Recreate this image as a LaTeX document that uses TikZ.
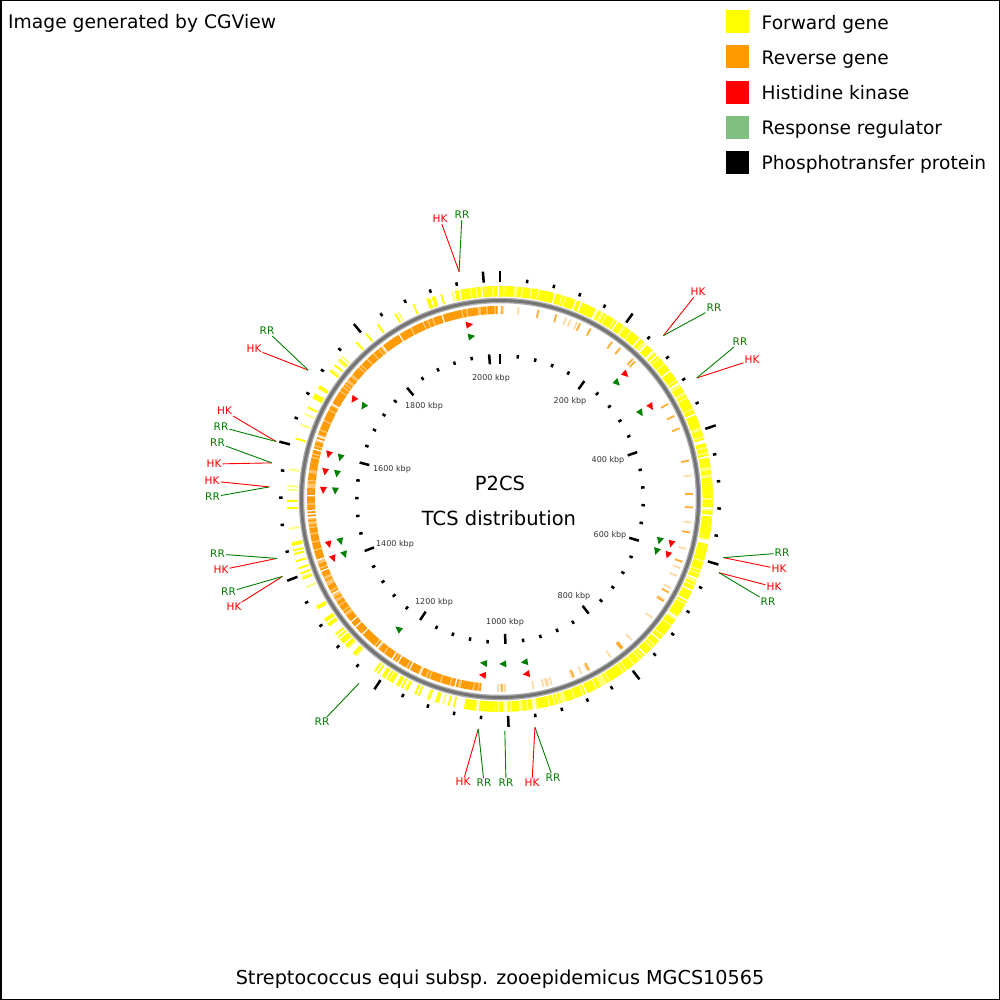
\documentclass[tikz,border=0pt]{standalone}
\usepackage{fontspec}
\setmainfont{DejaVu Sans}
\definecolor{fwd}{RGB}{255,255,0}
\definecolor{rev}{RGB}{255,153,0}
\definecolor{hkc}{RGB}{255,0,0}
\definecolor{rrc}{RGB}{0,128,0}
\definecolor{rrleg}{RGB}{127,191,127}
\definecolor{ringout}{RGB}{170,170,170}
\definecolor{ringin}{RGB}{115,115,115}
\newcommand\tcstri[4]{%
  \pgfmathsetmacro\tcsA{#1-90-(#3)*2.5/#2*57.3}%
  \pgfmathsetmacro\tcsB{#1-90+(#3)*4.5/#2*57.3}%
  \fill[#4] (\tcsA:{#2-3.5}) -- (\tcsA:{#2+3.5}) -- (\tcsB:#2) -- cycle;}
\begin{document}
\begin{tikzpicture}[x=1pt,y=-1pt,
  hk/.style={text=hkc, font=\fontsize{10.5}{12}\selectfont, inner sep=1pt},
  rr/.style={text=rrc, font=\fontsize{10.5}{12}\selectfont, inner sep=1pt},
  hkline/.style={draw=hkc, line width=0.9},
  rrline/.style={draw=rrc, line width=0.9},
  kbp/.style={font=\fontsize{8}{10}\selectfont, text=black!80, inner sep=0.5pt},
  legtext/.style={anchor=base west, font=\fontsize{18.6}{22}\selectfont, inner sep=0pt},
  legbox/.style={minimum size=23, inner sep=0pt, draw=none},
  tick/.style={line width=2.5, black},
  bigtext/.style={anchor=base, font=\fontsize{19.5}{23}\selectfont, inner sep=0pt}]
\fill[white] (0,0) rectangle (1000,1000);
\useasboundingbox (0,0) rectangle (1000,1000);
\draw[line width=1.5] (0.75,0.75) rectangle (999.25,999.25);

% header and footer
\node[anchor=base west, font=\fontsize{18.7}{22}\selectfont, inner sep=0pt] (title) at (8,29) {Image generated by CGView};
\node[anchor=base, font=\fontsize{19.2}{22}\selectfont, inner sep=0pt] (organism) at (500,984) {Streptococcus equi subsp. zooepidemicus MGCS10565};

% legend
\node[legbox, fill=fwd] (lb1) at (737.5,21.5) {};
\node[legbox, fill=rev] (lb2) at (737.5,57) {};
\node[legbox, fill=hkc] (lb3) at (737.5,92.5) {};
\node[legbox, fill=rrleg] (lb4) at (737.5,127.5) {};
\node[legbox, fill=black] (lb5) at (737.5,162.5) {};
\node[legtext] (lt1) at (761.5,29.3) {Forward gene};
\node[legtext] (lt2) at (761.5,64.3) {Reverse gene};
\node[legtext] (lt3) at (761.5,99.3) {Histidine kinase};
\node[legtext] (lt4) at (761.5,134.3) {Response regulator};
\node[legtext] (lt5) at (761.5,169.3) {Phosphotransfer protein};

% centre text
\node[bigtext] (p2cs) at (500,490) {P2CS};
\node[bigtext] (tcs) at (499,525) {TCS distribution};

\begin{scope}[shift={(500,499)}]
  % forward genes
  \pgfmathsetseed{42}
  \foreach \a in {0,0.5,...,359.5}{
    \pgfmathsetmacro\pf{(\a>=348 || \a<190) ? 0.93 : ((\a<232) ? 0.4 : 0.22)}
    \pgfmathsetmacro\u{rnd}
    \pgfmathsetmacro\v{rnd}
    \ifdim\u pt<\pf pt
      \pgfmathsetmacro\op{(\v<0.22) ? 0.5 : 1}
      \draw[fwd, line width=1.95, opacity=\op] ({\a-90}:202.5) -- ({\a-90}:213);
    \fi
  }
  % reverse genes
  \foreach \a in {0,0.5,...,359.5}{
    \pgfmathsetmacro\pf{(\a>=186) ? 0.92 : 0.14}
    \pgfmathsetmacro\u{rnd}
    \pgfmathsetmacro\v{rnd}
    \ifdim\u pt<\pf pt
      \pgfmathsetmacro\op{(\a>=186) ? ((\v<0.25) ? 0.55 : 1) : ((\v<0.6) ? 0.35 : 0.8)}
      \draw[rev, line width=1.8, opacity=\op] ({\a-90}:185) -- ({\a-90}:193);
    \fi
  }
  % backbone ring
  \draw[ringout, line width=5.5] (0,0) circle[radius=198.5];
  \draw[ringin, line width=2.8] (0,0) circle[radius=198.5];
  % ticks
  \foreach \k in {0,...,50}{
    \pgfmathsetmacro\t{\k*40/2024.171*360-90}
    \pgfmathtruncatemacro\m{mod(\k,5)}
    \ifnum\m=0
      \draw[tick] (\t:217) -- (\t:228);
      \draw[tick] (\t:135) -- (\t:145);
    \else
      \draw[tick] (\t:217.5) -- (\t:221);
      \draw[tick] (\t:141.5) -- (\t:145);
    \fi
  }
  % TCS features: HK (r=177) and RR (r=165)
  \tcstri{349.8}{177}{1}{hkc}  \tcstri{349.8}{165}{1}{rrc}
  \tcstri{45.0}{177}{1}{hkc}   \tcstri{45.0}{165}{1}{rrc}
  \tcstri{58.3}{177}{1}{hkc}   \tcstri{58.3}{165}{1}{rrc}
  \tcstri{104.4}{177}{1}{hkc}  \tcstri{104.4}{165}{1}{rrc}
  \tcstri{108.2}{177}{1}{hkc}  \tcstri{108.2}{165}{1}{rrc}
  \tcstri{171.2}{177}{1}{hkc}  \tcstri{171.2}{165}{1}{rrc}
  \tcstri{178.7}{165}{1}{rrc}
  \tcstri{185.4}{177}{1}{hkc}  \tcstri{185.4}{165}{1}{rrc}
  \tcstri{217.8}{165}{1}{rrc}
  \tcstri{250.6}{177}{-1}{hkc} \tcstri{250.6}{165}{-1}{rrc}
  \tcstri{255.4}{177}{-1}{hkc} \tcstri{255.4}{165}{-1}{rrc}
  \tcstri{273.1}{177}{-1}{hkc} \tcstri{273.1}{165}{-1}{rrc}
  \tcstri{279.1}{177}{-1}{hkc} \tcstri{279.1}{165}{-1}{rrc}
  \tcstri{284.8}{177}{-1}{hkc} \tcstri{284.8}{165}{-1}{rrc}
  \tcstri{304.4}{177}{-1}{hkc} \tcstri{304.4}{165}{-1}{rrc}
  % label anchors
  \coordinate (f1) at ({349.8-90}:231);
  \coordinate (f2) at ({45.0-90}:231);
  \coordinate (f3) at ({58.4-90}:231);
  \coordinate (f4) at ({104.7-90}:231);
  \coordinate (f5) at ({108.6-90}:231);
  \coordinate (f6) at ({171.3-90}:231);
  \coordinate (f7) at ({178.8-90}:232);
  \coordinate (f8) at ({185.4-90}:231);
  \coordinate (f9) at ({217.4-90}:232);
  \coordinate (f10) at ({250.4-90}:231);
  \coordinate (f11) at ({255.1-90}:231);
  \coordinate (f12) at ({273.0-90}:231);
  \coordinate (f13) at ({279.0-90}:231);
  \coordinate (f14) at ({284.4-90}:231);
  \coordinate (f15) at ({303.9-90}:231);
\end{scope}

% kbp labels
\node[kbp] (k2000) at (491,378) {2000 kbp};
\node[kbp] (k200) at (570,401) {200 kbp};
\node[kbp] (k400) at (608,460) {400 kbp};
\node[kbp] (k600) at (610,535) {600 kbp};
\node[kbp] (k800) at (574,596) {800 kbp};
\node[kbp] (k1000) at (505,622) {1000 kbp};
\node[kbp] (k1200) at (434,602) {1200 kbp};
\node[kbp] (k1400) at (395,544) {1400 kbp};
\node[kbp] (k1600) at (392,469) {1600 kbp};
\node[kbp] (k1800) at (424,406) {1800 kbp};

% feature labels
\node[hk] (f1h) at (440,219) {HK};   \node[rr] (f1r) at (462,215) {RR};
\node[hk] (f2h) at (698,292) {HK};   \node[rr] (f2r) at (714,308) {RR};
\node[rr] (f3r) at (740,342) {RR};   \node[hk] (f3h) at (752,360) {HK};
\node[rr] (f4r) at (782,553) {RR};   \node[hk] (f4h) at (779,569) {HK};
\node[hk] (f5h) at (774,587) {HK};   \node[rr] (f5r) at (768,602) {RR};
\node[hk] (f6h) at (532,783) {HK};   \node[rr] (f6r) at (553,778) {RR};
\node[rr] (f7r) at (506,783) {RR};
\node[hk] (f8h) at (463,782) {HK};   \node[rr] (f8r) at (484,783) {RR};
\node[rr] (f9r) at (322,722) {RR};
\node[rr] (f10r) at (228.5,592) {RR}; \node[hk] (f10h) at (234,607) {HK};
\node[rr] (f11r) at (217.5,554) {RR}; \node[hk] (f11h) at (221,570) {HK};
\node[hk] (f12h) at (212,481) {HK};   \node[rr] (f12r) at (212.5,497) {RR};
\node[rr] (f13r) at (217.5,443) {RR}; \node[hk] (f13h) at (214,464) {HK};
\node[hk] (f14h) at (224.5,411) {HK}; \node[rr] (f14r) at (221,427) {RR};
\node[rr] (f15r) at (267,331) {RR};   \node[hk] (f15h) at (254,349) {HK};

\draw[hkline] (f1) -- (f1h);   \draw[rrline] (f1) -- (f1r);
\draw[hkline] (f2) -- (f2h);   \draw[rrline] (f2) -- (f2r);
\draw[hkline] (f3) -- (f3h);   \draw[rrline] (f3) -- (f3r);
\draw[hkline] (f4) -- (f4h);   \draw[rrline] (f4) -- (f4r);
\draw[hkline] (f5) -- (f5h);   \draw[rrline] (f5) -- (f5r);
\draw[hkline] (f6) -- (f6h);   \draw[rrline] (f6) -- (f6r);
\draw[rrline] (f7) -- (f7r);
\draw[hkline] (f8) -- (f8h);   \draw[rrline] (f8) -- (f8r);
\draw[rrline] (f9) -- (f9r);
\draw[hkline] (f10) -- (f10h); \draw[rrline] (f10) -- (f10r);
\draw[hkline] (f11) -- (f11h); \draw[rrline] (f11) -- (f11r);
\draw[hkline] (f12) -- (f12h); \draw[rrline] (f12) -- (f12r);
\draw[hkline] (f13) -- (f13h); \draw[rrline] (f13) -- (f13r);
\draw[hkline] (f14) -- (f14h); \draw[rrline] (f14) -- (f14r);
\draw[hkline] (f15) -- (f15h); \draw[rrline] (f15) -- (f15r);
\end{tikzpicture}
\end{document}
